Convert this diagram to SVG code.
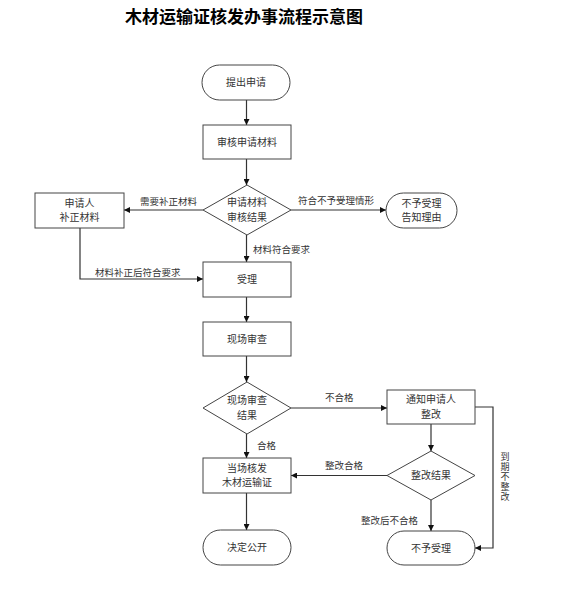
<svg xmlns="http://www.w3.org/2000/svg" width="573" height="600" viewBox="0 0 573 600">
<style>
.s{fill:#fff;stroke:#444;stroke-width:1}
.t{font-family:"Noto Sans CJK SC","Noto Sans",sans-serif;font-size:10px;fill:#333;text-anchor:middle}
.l{font-family:"Noto Sans CJK SC","Noto Sans",sans-serif;font-size:9.5px;fill:#333}
.c{fill:none;stroke:#333;stroke-width:1.2}
.title{font-family:"Noto Sans CJK SC","Noto Sans",sans-serif;font-size:17px;font-weight:bold;fill:#000;text-anchor:middle}
</style>
<defs>
<marker id="a" viewBox="0 0 10 10" refX="10" refY="5" markerWidth="6" markerHeight="6" markerUnits="userSpaceOnUse" orient="auto"><path d="M0,0 L10,5 L0,10 z" fill="#111"/></marker>
</defs>
<rect width="573" height="600" fill="#fff"/>
<text class="title" x="244" y="23">木材运输证核发办事流程示意图</text>

<g id="connectors">
<path class="c" d="M246.5,100 V125" marker-end="url(#a)"/>
<path class="c" d="M246.5,159 V185" marker-end="url(#a)"/>
<path class="c" d="M203,210 H124" marker-end="url(#a)"/>
<path class="c" d="M291,210 H386" marker-end="url(#a)"/>
<path class="c" d="M246.5,235 V262" marker-end="url(#a)"/>
<path class="c" d="M80,228 V279 H203" marker-end="url(#a)"/>
<path class="c" d="M246.5,297 V322" marker-end="url(#a)"/>
<path class="c" d="M246.5,356 V382" marker-end="url(#a)"/>
<path class="c" d="M291,408 H387" marker-end="url(#a)"/>
<path class="c" d="M246.5,434 V458" marker-end="url(#a)"/>
<path class="c" d="M431,424 V451" marker-end="url(#a)"/>
<path class="c" d="M387,475.5 H291" marker-end="url(#a)"/>
<path class="c" d="M431,500 V531" marker-end="url(#a)"/>
<path class="c" d="M475,407 H493 V548 H475" marker-end="url(#a)"/>
<path class="c" d="M246.5,493 V530" marker-end="url(#a)"/>
<text class="l" x="140" y="205">需要补正材料</text>
<text class="l" x="298" y="204">符合不予受理情形</text>
<text class="l" x="253" y="253">材料符合要求</text>
<text class="l" x="95" y="276">材料补正后符合要求</text>
<text class="l" x="325" y="401">不合格</text>
<text class="l" x="257" y="449">合格</text>
<text class="l" x="325" y="469">整改合格</text>
<text class="l" x="361" y="524">整改后不合格</text>
<text class="l" x="505" y="452" writing-mode="tb" style="font-size:9px;letter-spacing:1px">到期不整改</text>
</g>

<g id="start"><rect class="s" x="202" y="65" width="88" height="35" rx="17.5"/><text class="t" x="246" y="86">提出申请</text></g>
<g id="review"><rect class="s" x="203" y="125" width="88" height="34"/><text class="t" x="247" y="146">审核申请材料</text></g>
<g id="reviewResult"><polygon class="s" points="247,185 291,210 247,235 203,210"/><text class="t" x="247" y="206">申请材料</text><text class="t" x="247" y="220.5">审核结果</text></g>
<g id="supplement"><rect class="s" x="35" y="193" width="89" height="35"/><text class="t" x="79.5" y="206.5">申请人</text><text class="t" x="79.5" y="221">补正材料</text></g>
<g id="reject1"><rect class="s" x="386" y="193" width="71" height="35" rx="17.5"/><text class="t" x="421.5" y="206.5">不予受理</text><text class="t" x="421.5" y="221">告知理由</text></g>
<g id="accept"><rect class="s" x="203" y="262" width="88" height="35"/><text class="t" x="247" y="283">受理</text></g>
<g id="inspect"><rect class="s" x="203" y="322" width="88" height="34"/><text class="t" x="247" y="343">现场审查</text></g>
<g id="inspectResult"><polygon class="s" points="247,382 291,408 247,434 203,408"/><text class="t" x="247" y="404">现场审查</text><text class="t" x="247" y="418.5">结果</text></g>
<g id="notify"><rect class="s" x="387" y="390" width="88" height="34"/><text class="t" x="431" y="403">通知申请人</text><text class="t" x="431" y="417.5">整改</text></g>
<g id="fixResult"><polygon class="s" points="431,451 475,475.5 431,500 387,475.5"/><text class="t" x="431" y="479">整改结果</text></g>
<g id="issue"><rect class="s" x="203" y="458" width="88" height="35"/><text class="t" x="247" y="471.5">当场核发</text><text class="t" x="247" y="486">木材运输证</text></g>
<g id="publish"><rect class="s" x="203" y="530" width="88" height="35" rx="17.5"/><text class="t" x="247" y="551">决定公开</text></g>
<g id="reject2"><rect class="s" x="387" y="531" width="88" height="34" rx="17"/><text class="t" x="431" y="552">不予受理</text></g>
</svg>
